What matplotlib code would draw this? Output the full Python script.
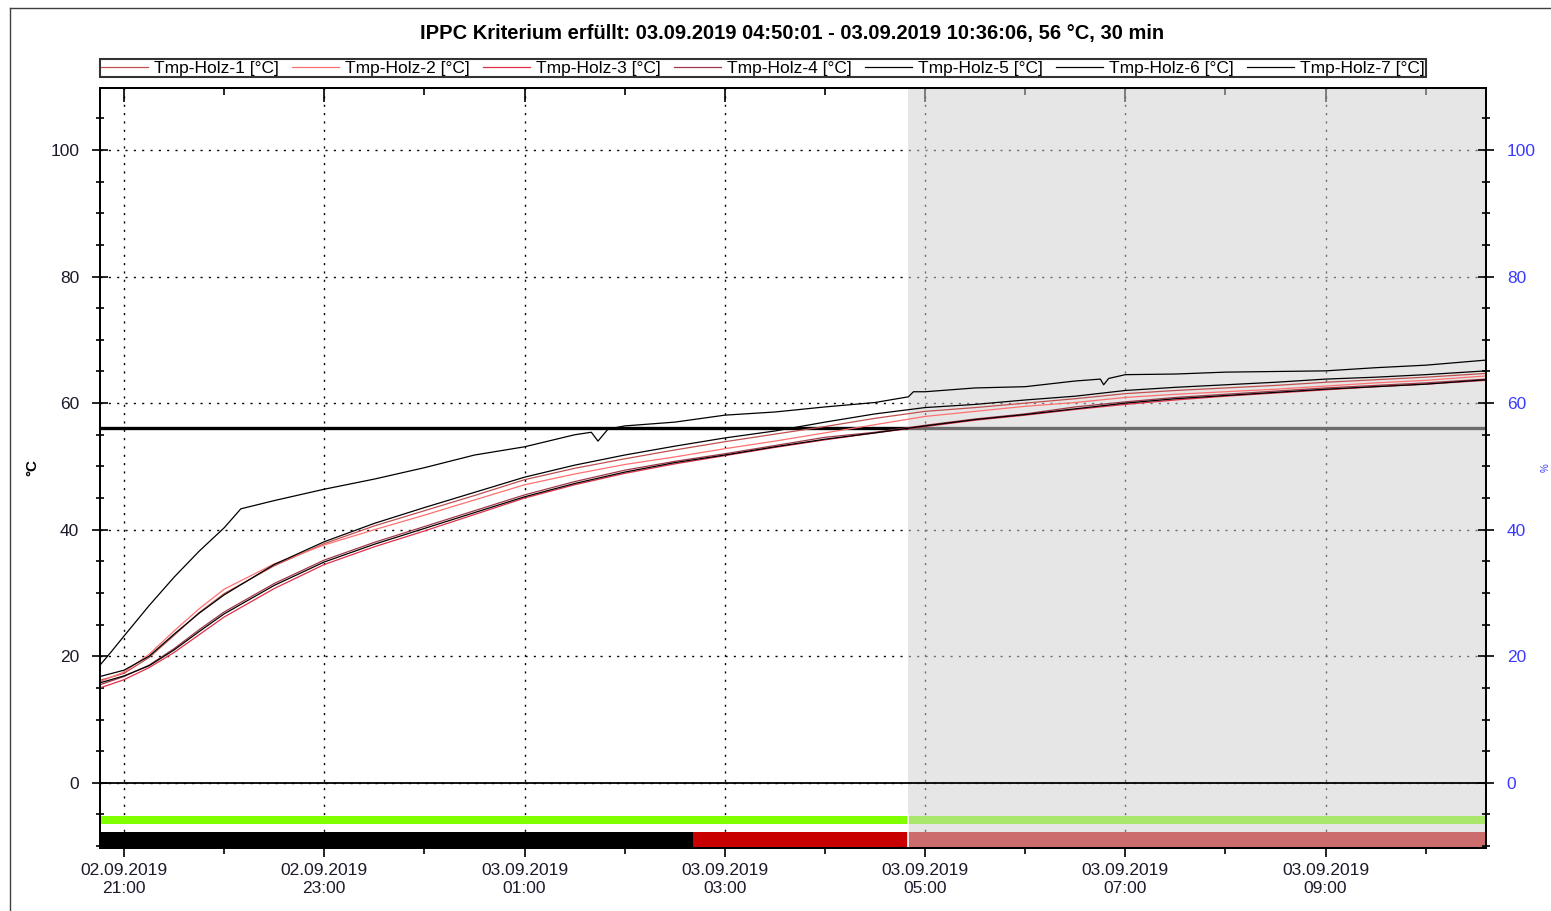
import matplotlib

matplotlib.use("Agg")

import matplotlib.dates as mdates
import matplotlib.pyplot as plt
import pandas as pd
from matplotlib.lines import Line2D
from matplotlib.ticker import MultipleLocator, NullFormatter

plt.rcParams["font.family"] = ["Liberation Sans", "DejaVu Sans"]

TITLE = "IPPC Kriterium erfüllt: 03.09.2019 04:50:01 - 03.09.2019 10:36:06, 56 °C, 30 min"

# common sample times for the six clustered sensors
times = pd.to_datetime([
    "2019-09-02 20:45:36", "2019-09-02 21:00", "2019-09-02 21:15", "2019-09-02 21:30",
    "2019-09-02 21:45", "2019-09-02 22:00", "2019-09-02 22:30", "2019-09-02 23:00",
    "2019-09-02 23:30", "2019-09-03 00:00", "2019-09-03 00:30", "2019-09-03 01:00",
    "2019-09-03 01:30", "2019-09-03 02:00", "2019-09-03 02:30", "2019-09-03 03:00",
    "2019-09-03 03:30", "2019-09-03 04:00", "2019-09-03 04:30", "2019-09-03 05:00",
    "2019-09-03 05:30", "2019-09-03 06:00", "2019-09-03 06:30", "2019-09-03 07:00",
    "2019-09-03 07:30", "2019-09-03 08:00", "2019-09-03 08:30", "2019-09-03 09:00",
    "2019-09-03 09:30", "2019-09-03 10:00", "2019-09-03 10:36:06",
], format="ISO8601")

holz1 = [16.2, 17.3, 19.8, 23.3, 26.9, 29.9, 34.3, 37.8, 40.6, 43.0, 45.4, 47.9, 49.7, 51.2, 52.6, 53.9,
         55.1, 56.3, 57.6, 58.7, 59.3, 60.0, 60.7, 61.5, 62.0, 62.4, 62.8, 63.3, 63.7, 64.1, 64.7]
holz2 = [16.0, 17.5, 20.3, 24.0, 27.5, 30.6, 34.6, 37.6, 40.0, 42.3, 44.7, 47.1, 48.8, 50.3, 51.5, 52.8,
         54.0, 55.3, 56.6, 57.9, 58.7, 59.5, 60.1, 60.9, 61.4, 61.8, 62.2, 62.7, 63.2, 63.6, 64.3]
holz3 = [15.0, 16.3, 18.2, 20.6, 23.4, 26.2, 30.7, 34.5, 37.3, 39.8, 42.4, 45.0, 47.1, 48.9, 50.4, 51.7,
         53.0, 54.2, 55.3, 56.3, 57.3, 58.1, 59.0, 59.8, 60.5, 61.1, 61.6, 62.1, 62.6, 63.0, 63.6]
holz4 = [15.5, 16.8, 18.6, 21.2, 24.2, 27.0, 31.5, 35.2, 38.0, 40.5, 43.0, 45.5, 47.6, 49.4, 50.8, 52.0,
         53.3, 54.6, 55.4, 56.5, 57.5, 58.3, 59.4, 60.2, 60.9, 61.4, 61.9, 62.4, 62.8, 63.2, 63.8]
holz5 = [16.8, 17.8, 20.0, 23.5, 26.8, 29.7, 34.5, 38.1, 41.0, 43.5, 45.9, 48.3, 50.2, 51.8, 53.2, 54.5,
         55.6, 57.0, 58.3, 59.3, 59.8, 60.5, 61.1, 62.0, 62.5, 62.9, 63.3, 63.8, 64.1, 64.5, 65.1]
holz6 = [15.8, 16.9, 18.5, 21.0, 23.9, 26.7, 31.2, 34.9, 37.7, 40.2, 42.7, 45.2, 47.3, 49.1, 50.6, 51.8,
         53.1, 54.3, 55.3, 56.4, 57.4, 58.2, 59.1, 60.0, 60.7, 61.2, 61.7, 62.2, 62.6, 63.0, 63.7]

# the fast sensor has its own samples (dips included)
times7 = pd.to_datetime([
    "2019-09-02 20:45:36", "2019-09-02 20:52", "2019-09-02 21:00", "2019-09-02 21:15",
    "2019-09-02 21:30", "2019-09-02 21:45", "2019-09-02 22:00", "2019-09-02 22:10",
    "2019-09-02 22:30", "2019-09-02 23:00", "2019-09-02 23:30", "2019-09-03 00:00",
    "2019-09-03 00:30", "2019-09-03 01:00", "2019-09-03 01:30", "2019-09-03 01:40",
    "2019-09-03 01:44", "2019-09-03 01:50", "2019-09-03 02:00", "2019-09-03 02:30",
    "2019-09-03 03:00", "2019-09-03 03:30", "2019-09-03 04:00", "2019-09-03 04:30",
    "2019-09-03 04:50", "2019-09-03 04:53", "2019-09-03 05:00", "2019-09-03 05:30",
    "2019-09-03 06:00", "2019-09-03 06:30", "2019-09-03 06:45", "2019-09-03 06:47",
    "2019-09-03 06:50", "2019-09-03 07:00", "2019-09-03 07:30", "2019-09-03 08:00",
    "2019-09-03 08:30", "2019-09-03 09:00", "2019-09-03 09:30", "2019-09-03 10:00",
    "2019-09-03 10:36:06",
], format="ISO8601")
holz7 = [18.6, 20.6, 23.2, 28.0, 32.5, 36.6, 40.3, 43.3, 44.6, 46.4, 48.0, 49.8, 51.8, 53.1, 55.0, 55.4,
         54.0, 55.9, 56.4, 57.0, 58.1, 58.6, 59.4, 60.1, 61.0, 61.8, 61.8, 62.4, 62.6, 63.5, 63.8, 62.9,
         63.9, 64.5, 64.6, 64.9, 65.0, 65.1, 65.6, 66.0, 66.8]

labels = [f"Tmp-Holz-{i} [°C]" for i in range(1, 8)]
colors = ["#c05050", "#ff7070", "#e03048", "#a03848", "black", "black", "black"]

t_start = pd.Timestamp("2019-09-02 20:45:36")
t_end = pd.Timestamp("2019-09-03 10:36:06")
t_crit = pd.Timestamp("2019-09-03 04:50:01")  # criterion fulfilled from here
t_status = pd.Timestamp("2019-09-03 02:41")    # status bar switches black -> red
limit = 56

fig = plt.figure(figsize=(15.51, 9.11), dpi=100)
ax = fig.add_axes([100 / 1551, 1 - 848 / 911, 1386 / 1551, 760 / 911])
ax.set_xlim(t_start, t_end)
ax.set_ylim(-10.3, 109.8)

ax.set_axisbelow(True)
ax.grid(True, which="major", color="black", linestyle=(0, (1.5, 4.5)), linewidth=1)

# status bars below zero
ax.fill_between([t_start, t_end], -5.2, -6.5, color="#7fff00", linewidth=0, zorder=1)
ax.fill_between([t_start, t_status], -7.75, -10.3, color="black", linewidth=0, zorder=1)
ax.fill_between([t_status, t_end], -7.75, -10.3, color="#c80000", linewidth=0, zorder=1)

ax.axhline(limit, color="black", linewidth=2.4, zorder=1.5)
ax.axvspan(t_crit, t_end, facecolor="#d0d0d0", alpha=0.52, linewidth=0, zorder=2)
ax.vlines(t_crit, -10.3, -5, color="white", linewidth=1.2, zorder=2.1)
ax.axhline(0, color="black", linewidth=1.3, zorder=3)

series = [(times, holz1), (times, holz2), (times, holz3), (times, holz4),
          (times, holz5), (times, holz6), (times7, holz7)]
handles = []
for (tt, vals), lab, col in zip(series, labels, colors):
    (ln,) = ax.plot(tt, vals, color=col, linewidth=0.9, label=lab, zorder=4)
    handles.append(ln)

ax.xaxis.set_major_locator(mdates.HourLocator(byhour=range(1, 24, 2)))
ax.xaxis.set_minor_locator(mdates.HourLocator(byhour=range(0, 24, 2)))
ax.xaxis.set_major_formatter(mdates.DateFormatter("%d.%m.%Y\n%H:%M"))
ax.yaxis.set_major_locator(MultipleLocator(20))
ax.yaxis.set_minor_locator(MultipleLocator(5))
ax.set_yticks(range(0, 101, 20))

ax.tick_params(axis="x", which="major", direction="inout", length=13, width=1.2, pad=4,
               labelsize=12.5, labelcolor="#1a1a2a")
ax.tick_params(axis="x", which="minor", direction="out", length=4, width=1.2)
ax.tick_params(axis="y", which="major", direction="inout", length=12, width=1.2, pad=9,
               labelsize=12.5, labelcolor="#1a1a2a")
ax.tick_params(axis="y", which="minor", direction="inout", length=6, width=1.2)
for lab in ax.get_xticklabels():
    lab.set_ha("center")
    lab.set_multialignment("center")
    lab.set_linespacing(1.3)

top = ax.secondary_xaxis("top")
top.xaxis.set_major_locator(mdates.HourLocator(byhour=range(1, 24, 2)))
top.xaxis.set_minor_locator(mdates.HourLocator(byhour=range(0, 24, 2)))
top.xaxis.set_major_formatter(NullFormatter())
top.tick_params(which="major", direction="in", length=10, width=1.2)
top.tick_params(which="minor", direction="in", length=5, width=1.2)

ax2 = ax.twinx()
ax2.set_ylim(ax.get_ylim())
ax2.set_yticks(range(0, 101, 20))
ax2.yaxis.set_minor_locator(MultipleLocator(5))
ax2.tick_params(axis="y", which="major", direction="inout", length=12, width=1.2, pad=9,
                labelsize=12.5, labelcolor="#3a3aff")
ax2.tick_params(axis="y", which="minor", direction="inout", length=6, width=1.2)

for a in (ax, ax2):
    for sp in a.spines.values():
        sp.set_linewidth(1.3)
        sp.set_zorder(5)
top.spines["top"].set_linewidth(1.3)

fig.text(792 / 1551, 1 - 33 / 911, TITLE, ha="center", va="center", fontsize=14.5, fontweight="bold")
fig.text(32 / 1551, 1 - 467 / 911, "°C", rotation=90, ha="center", va="center", fontsize=11,
         fontweight="bold")
fig.text(1546 / 1551, 1 - 468 / 911, "%", rotation=90, ha="center", va="center", fontsize=7,
         color="#3a3aff")

leg = fig.legend(handles, labels, loc="lower left",
                 bbox_to_anchor=(100 / 1551, 1 - 77 / 911, 1326 / 1551, 19 / 911),
                 mode="expand", ncol=7, handlelength=2.7, handletextpad=0.35, borderpad=0.08,
                 borderaxespad=0, fancybox=False, edgecolor="black", fontsize=12.5)
leg.get_frame().set_linewidth(1.5)

# outer frame of the report picture
fig.add_artist(Line2D([10 / 1551, 10 / 1551], [0, 1 - 8 / 911], color="#404040", linewidth=1))
fig.add_artist(Line2D([10 / 1551, 1], [1 - 8 / 911, 1 - 8 / 911], color="#404040", linewidth=1))

fig.savefig("out.png", dpi=100)
plt.close(fig)
